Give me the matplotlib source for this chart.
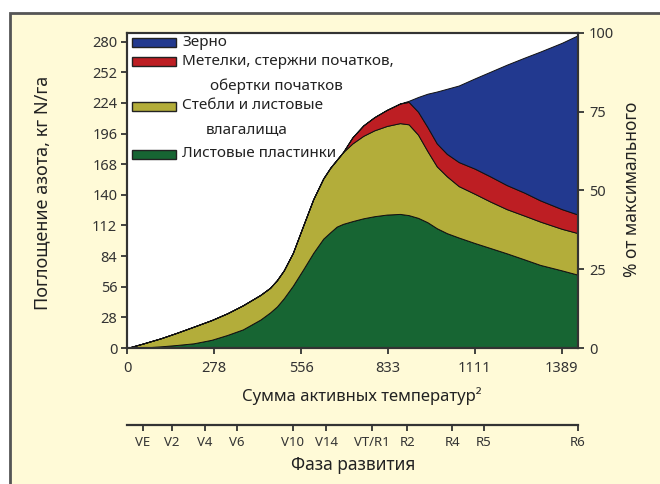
import numpy as np
import matplotlib
matplotlib.use('Agg')
from matplotlib import pyplot as plt
from matplotlib.patches import Rectangle

plt.rcParams['font.family'] = ['Noto Sans', 'DejaVu Sans']

# Sum of active temperatures (x) and N uptake per plant part, kg N/ha
gdd = [0, 50, 107, 160, 213, 270, 320, 370, 426, 457, 479, 501, 530, 563,
       595, 627, 650, 670, 690, 720, 755, 790, 830, 872, 900, 930, 960,
       990, 1022, 1060, 1111, 1160, 1213, 1270, 1320, 1389, 1441]
leaf = [0, 0.4, 1.5, 2.8, 4.3, 7.5, 11.9, 17, 26, 32.5, 38, 45.5, 57, 72,
        87, 100, 106, 111, 113.5, 116, 118.6, 120.5, 122, 122.6, 121.5, 119, 115,
        109.5, 105, 101, 96, 91.5, 86.6, 81, 76, 71, 67]
stem = [0, 3.6, 7.3, 11.2, 15.2, 18, 19.8, 22, 22.5, 22.5, 24, 25.5, 30, 40,
        49, 55, 59, 61, 65.5, 71, 75.4, 78.5, 81, 83, 83, 76, 65,
        56.5, 52, 47, 45, 42.5, 40.4, 40, 39.6, 38, 38]
tassel = [0, 0, 0, 0, 0, 0, 0, 0, 0, 0, 0, 0, 0, 0,
          0, 0, 0, 0, 0, 5.5, 9.5, 12, 14.7, 17.9, 20.5, 21, 22,
          21, 20.5, 22, 23, 23, 22, 21, 19.4, 18, 17]
grain = [0, 0, 0, 0, 0, 0, 0, 0, 0, 0, 0, 0, 0, 0,
         0, 0, 0, 0, 0, 0, 0, 0, 0, 0, 1, 13.5, 30.5,
         47.5, 59.5, 70, 82.5, 95.5, 110, 123.5, 136, 152, 164]

x_ticks = [0, 278, 556, 833, 1111, 1389]
y_ticks = [0, 28, 56, 84, 112, 140, 168, 196, 224, 252, 280]
pct_ticks = [0, 25, 50, 75, 100]

stage_pos = [51, 144, 249, 351, 530, 636, 783, 895, 1039, 1141, 1440]
stage_lab = ['VE', 'V2', 'V4', 'V6', 'V10', 'V14', 'VT/R1', 'R2', 'R4', 'R5', 'R6']

c_green = '#176533'
c_olive = '#b3ad3a'
c_red = '#bd1e23'
c_blue = '#22398f'
bg = '#fffad7'
dark = '#333333'
txt = '#222222'

W, H = 660, 484
fig = plt.figure(figsize=(W / 100, H / 100), dpi=100, facecolor='white')

# cream frame
fig.patches.append(Rectangle((10 / W, -0.05), 1.0, (H - 13) / H + 0.05,
                             transform=fig.transFigure, facecolor=bg,
                             edgecolor='#555555', linewidth=2, zorder=-10))


def px(x0, y0, x1, y1):
    return [x0 / W, (H - y1) / H, (x1 - x0) / W, (y1 - y0) / H]


ax = fig.add_axes(px(127, 33, 578, 348))
ax.stackplot(gdd, leaf, stem, tassel, grain,
             colors=[c_green, c_olive, c_red, c_blue],
             edgecolor='#111111', linewidth=0.7)
ax.set_xlim(0, 1441)
ax.set_ylim(0, 288)
ax.set_xticks(x_ticks)
ax.set_yticks(y_ticks)
ax.tick_params(direction='out', length=4, width=1.3, color=dark,
               labelsize=10.5, labelcolor=dark, pad=3)
ax.tick_params(axis='x', pad=5)
for s in ax.spines.values():
    s.set_linewidth(1.5)
    s.set_color(dark)
ax.set_facecolor('white')

ax2 = ax.twinx()
ax2.set_ylim(0, 100)
ax2.set_yticks(pct_ticks)
ax2.tick_params(direction='out', length=4, width=1.3, color=dark,
                labelsize=10.5, labelcolor=dark, pad=4)
for s in ax2.spines.values():
    s.set_linewidth(1.5)
    s.set_color(dark)

# legend drawn by hand
fs = 11
rows = [(43, c_blue, 'Зерно'),
        (62, c_red, 'Метелки, стержни початков,'),
        (106, c_olive, 'Стебли и листовые'),
        (154, c_green, 'Листовые пластинки')]
for yy, col, lab in rows:
    ax.add_patch(Rectangle(((132 - 127) / 451, (348 - yy - 4.5) / 315),
                           44 / 451, 9 / 315, transform=ax.transAxes,
                           facecolor=col, edgecolor=txt, linewidth=1,
                           zorder=5))
    ax.text((182 - 127) / 451, (348 - yy) / 315, lab, transform=ax.transAxes,
            fontsize=fs, color=txt, va='center', ha='left', zorder=5)
ax.text((210 - 127) / 451, (348 - 86) / 315, 'обертки початков',
        transform=ax.transAxes, fontsize=fs, color=txt, va='center', zorder=5)
ax.text((206 - 127) / 451, (348 - 130) / 315, 'влагалища',
        transform=ax.transAxes, fontsize=fs, color=txt, va='center', zorder=5)

fig.text(362 / W, (H - 396) / H, 'Сумма активных температур²', ha='center',
         va='center', fontsize=12, color=txt)
fig.text(42 / W, (H - 193) / H, 'Поглощение азота, кг N/га', ha='center',
         va='center', rotation=90, fontsize=13, color=txt)
fig.text(632 / W, (H - 189) / H, '% от максимального', ha='center',
         va='center', rotation=90, fontsize=12.5, color=txt)

# growth stage axis
axp = fig.add_axes([127 / W, (H - 425) / H, 451 / W, 0.0001])
axp.set_xlim(0, 1441)
axp.set_yticks([])
axp.set_xticks(stage_pos)
axp.set_xticklabels(stage_lab)
axp.tick_params(axis='x', direction='out', length=4, width=1.3, color=dark,
                labelsize=9.5, labelcolor=dark, pad=4)
for k in ['top', 'left', 'right']:
    axp.spines[k].set_visible(False)
axp.spines['bottom'].set_linewidth(1.6)
axp.spines['bottom'].set_color(dark)
axp.patch.set_visible(False)
fig.text(353 / W, (H - 465) / H, 'Фаза развития', ha='center', va='center',
         fontsize=12.5, color=txt)

fig.savefig('out.png', dpi=100, facecolor=fig.get_facecolor())
